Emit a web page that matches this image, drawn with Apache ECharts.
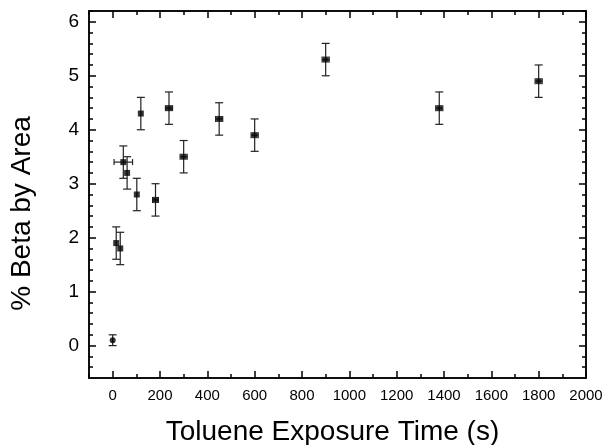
<!DOCTYPE html>
<html>
<head>
<meta charset="utf-8">
<script src="https://cdn.jsdelivr.net/npm/echarts@6/dist/echarts.min.js"></script>
<style>
  html, body { margin: 0; padding: 0; background: #fff; }
  #chart { width: 606px; height: 445px; }
</style>
</head>
<body>
<div id="chart"></div>
<script>
// exposure time (s), % beta, errors
const times = [0, 15, 32, 45, 61, 102, 119, 181, 238, 300, 450, 600, 900, 1380, 1800];
const beta = [0.1, 1.9, 1.8, 3.4, 3.2, 2.8, 4.3, 2.7, 4.4, 3.5, 4.2, 3.9, 5.3, 4.4, 4.9];
const betaErr = [0.1, 0.3, 0.3, 0.3, 0.3, 0.3, 0.3, 0.3, 0.3, 0.3, 0.3, 0.3, 0.3, 0.3, 0.3];
const timeErr = [0, 0, 0, 39, 0, 0, 0, 12, 15, 15, 15, 15, 15, 15, 15];

// tick values
const xTicks = [0, 200, 400, 600, 800, 1000, 1200, 1400, 1600, 1800, 2000];
const xMinor = [-100, 100, 300, 500, 700, 900, 1100, 1300, 1500, 1700, 1900];
const yTicks = [0, 1, 2, 3, 4, 5, 6];
const yMinor = [-0.4, -0.2, 0.2, 0.4, 0.6, 0.8, 1.2, 1.4, 1.6, 1.8, 2.2, 2.4, 2.6, 2.8,
    3.2, 3.4, 3.6, 3.8, 4.2, 4.4, 4.6, 4.8, 5.2, 5.4, 5.6, 5.8, 6.2];

const chart = echarts.init(document.getElementById('chart'));

const points = times.map((t, i) => [t, beta[i]]);
const errData = times.map((t, i) => [t, beta[i], betaErr[i], timeErr[i]]);

const axisFont = 'Arial, "Liberation Sans", sans-serif';

function renderErr(params, api) {
    const x = api.value(0), y = api.value(1), ey = api.value(2), ex = api.value(3);
    const lo = api.coord([x, y - ey]);
    const hi = api.coord([x, y + ey]);
    const c = api.coord([x, y]);
    const cap = 4;
    const style = { stroke: '#222', lineWidth: 1.2 };
    const children = [
        { type: 'line', shape: { x1: lo[0], y1: lo[1], x2: hi[0], y2: hi[1] }, style },
        { type: 'line', shape: { x1: lo[0] - cap, y1: lo[1], x2: lo[0] + cap, y2: lo[1] }, style },
        { type: 'line', shape: { x1: hi[0] - cap, y1: hi[1], x2: hi[0] + cap, y2: hi[1] }, style }
    ];
    if (ex > 0) {
        const l = api.coord([x - ex, y]);
        const r = api.coord([x + ex, y]);
        children.push(
            { type: 'line', shape: { x1: l[0], y1: c[1], x2: r[0], y2: c[1] }, style },
            { type: 'line', shape: { x1: l[0], y1: c[1] - 3, x2: l[0], y2: c[1] + 3 }, style },
            { type: 'line', shape: { x1: r[0], y1: c[1] - 3, x2: r[0], y2: c[1] + 3 }, style }
        );
    }
    return { type: 'group', children };
}

function frameAxis(pos, min, max, ticks, len, extra) {
    return Object.assign({
        type: 'value', position: pos, min: min, max: max,
        axisLine: { show: true, onZero: false, lineStyle: { color: '#000', width: 1.5 } },
        axisTick: { show: true, inside: true, length: len, customValues: ticks,
            lineStyle: { color: '#000', width: 1.5 } },
        axisLabel: { show: false },
        splitLine: { show: false }
    }, extra || {});
}

const option = {
    animation: false,
    backgroundColor: '#fff',
    grid: { left: 89, right: 20, top: 11, bottom: 67, outerBoundsMode: 'none', containLabel: false },
    xAxis: [
        frameAxis('bottom', -100, 2000, xTicks, 7, {
            axisLabel: { show: true, customValues: xTicks, color: '#000', fontSize: 15,
                fontFamily: axisFont, margin: 10, formatter: v => String(v) },
            name: 'Toluene Exposure Time (s)', nameLocation: 'middle', nameGap: 40,
            nameTextStyle: { color: '#000', fontSize: 28, fontFamily: axisFont, padding: [0, 10, 0, 0] }
        }),
        frameAxis('bottom', -100, 2000, xMinor, 4),
        frameAxis('top', -100, 2000, xTicks, 7),
        frameAxis('top', -100, 2000, xMinor, 4)
    ],
    yAxis: [
        frameAxis('left', -0.6, 6.2, yTicks, 7, {
            axisLabel: { show: true, customValues: yTicks, color: '#000', fontSize: 19,
                fontFamily: axisFont, margin: 10, formatter: v => String(v) },
            name: '% Beta by Area', nameLocation: 'middle', nameGap: 53,
            nameTextStyle: { color: '#000', fontSize: 28, fontFamily: axisFont, padding: [0, 38, 0, 0] }
        }),
        frameAxis('left', -0.6, 6.2, yMinor, 4),
        frameAxis('right', -0.6, 6.2, yTicks, 7),
        frameAxis('right', -0.6, 6.2, yMinor, 4)
    ],
    series: [{
        type: 'custom',
        renderItem: renderErr,
        data: errData,
        z: 2
    }, {
        type: 'scatter',
        symbol: (val, params) => (params.dataIndex === 0 ? 'circle' : 'rect'),
        symbolSize: 6,
        itemStyle: { color: '#000' },
        data: points,
        z: 3
    }]
};

chart.setOption(option);
</script>
</body>
</html>
